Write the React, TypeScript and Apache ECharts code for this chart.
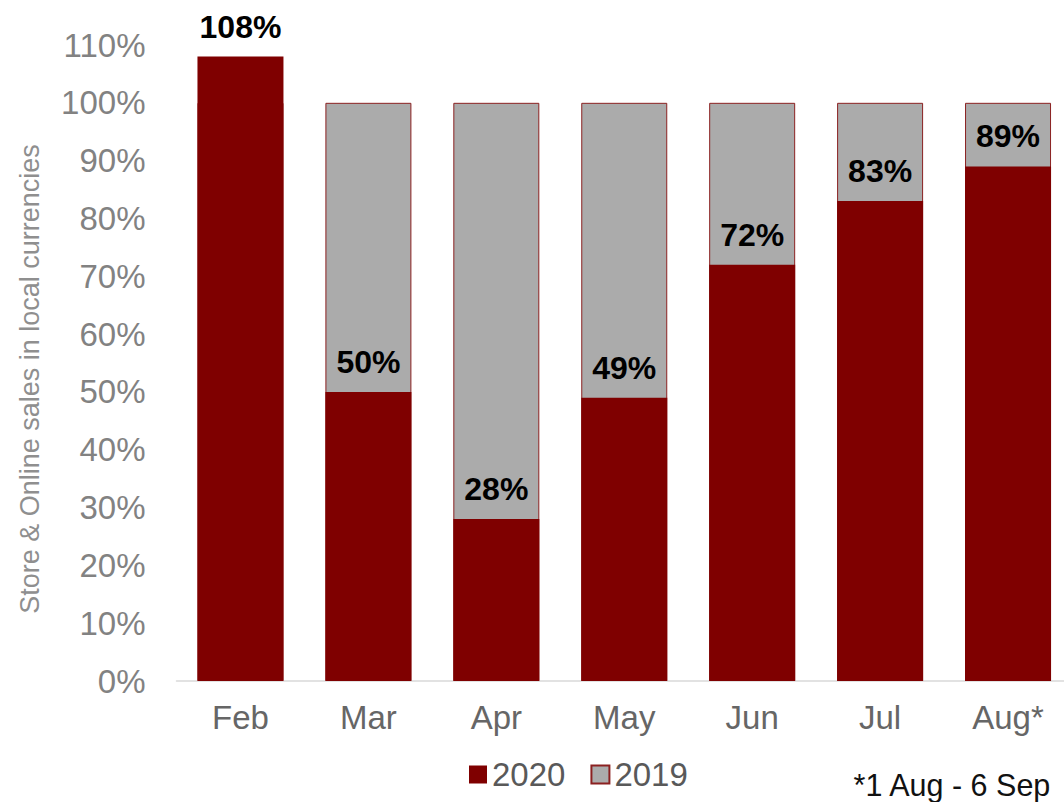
import React, { useEffect, useRef } from "react";
import * as echarts from "echarts";

const categories = ["Feb", "Mar", "Apr", "May", "Jun", "Jul", "Aug*"];
const sales2020 = [108, 50, 28, 49, 72, 83, 89];
const sales2019 = [100, 100, 100, 100, 100, 100, 100];
const yTicks = { min: 0, max: 110, interval: 10 };
const footnote = "*1 Aug - 6 Sep";
const yTitle = "Store & Online sales in local currencies";

const FONT = "'Liberation Sans', Arial, sans-serif";
const RED = "#7f0000";
const GREY = "#ababab";

export default function App() {
  const ref = useRef<HTMLDivElement>(null);
  useEffect(() => {
    if (!ref.current) return;
    const chart = echarts.init(ref.current, undefined, { renderer: "svg" });
    chart.setOption({
      animation: false,
      textStyle: { fontFamily: FONT },
      grid: { left: 176.5, right: 0, top: 45, bottom: 121, containLabel: false },
      legend: {
        data: ["2020", "2019"],
        icon: "rect",
        left: 464,
        top: 753,
        itemWidth: 18,
        itemHeight: 18,
        itemGap: 25,
        textStyle: { fontSize: 33, color: "#595959", fontFamily: FONT },
      },
      xAxis: {
        type: "category",
        data: categories,
        axisLine: { lineStyle: { color: "#d9d9d9", width: 1.5 } },
        axisTick: { show: false },
        axisLabel: { fontSize: 33, color: "#666666", margin: 20, fontFamily: FONT },
      },
      yAxis: {
        type: "value",
        min: yTicks.min,
        max: yTicks.max,
        interval: yTicks.interval,
        splitLine: { show: false },
        axisLine: { show: false },
        axisTick: { show: false },
        axisLabel: {
          fontSize: 33,
          color: "#828282",
          margin: 31,
          fontFamily: FONT,
          formatter: (v: number) => `${v}%`,
        },
      },
      series: [
        {
          name: "2019",
          type: "bar",
          data: sales2019,
          barWidth: 86,
          barGap: "-100%",
          itemStyle: { color: GREY, borderColor: "#8b2020", borderWidth: 1 },
        },
        {
          name: "2020",
          type: "bar",
          data: sales2020,
          barWidth: 86,
          barGap: "-100%",
          itemStyle: { color: RED },
          label: {
            show: true,
            position: "top",
            distance: 14,
            fontSize: 32,
            fontWeight: "bold",
            color: "#000000",
            fontFamily: FONT,
            formatter: (p: any) => `${p.value}%`,
          },
        },
      ],
      graphic: [
        {
          type: "text",
          x: 30,
          y: 379,
          rotation: Math.PI / 2,
          style: {
            text: yTitle,
            fontSize: 27,
            fill: "#8f8f8f",
            fontFamily: FONT,
            align: "center",
            verticalAlign: "middle",
          },
        },
        {
          type: "text",
          right: 20,
          top: 769,
          style: { text: footnote, fontSize: 30.5, fill: "#111111", fontFamily: FONT },
        },
      ],
    });
    return () => chart.dispose();
  }, []);
  return (
    <div
      style={{ position: "fixed", left: 0, top: 0, width: 1064, height: 802, overflow: "hidden", background: "#fff" }}
    >
      <div ref={ref} style={{ width: 1072, height: 802 }} />
    </div>
  );
}
